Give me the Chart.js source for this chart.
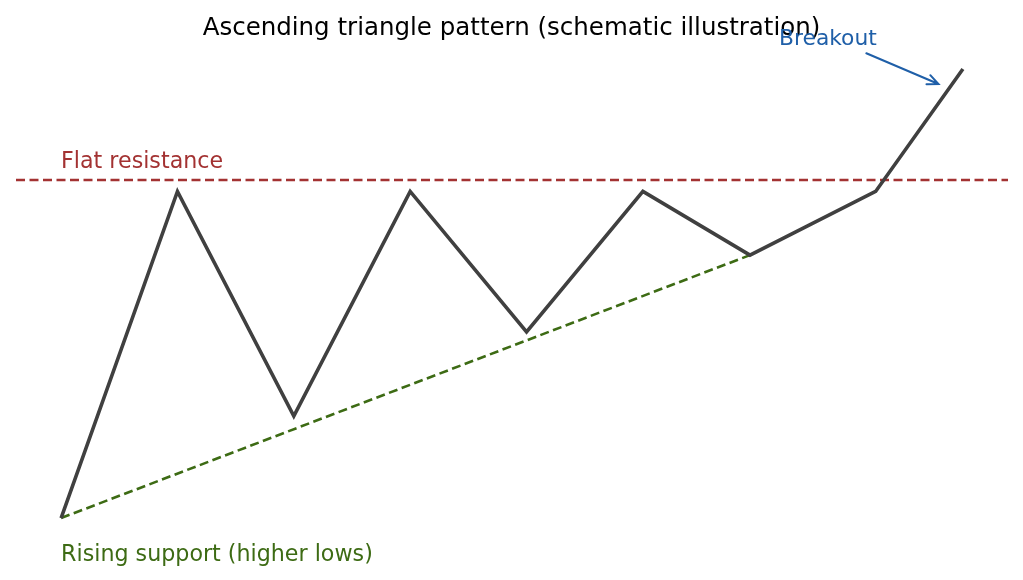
<!DOCTYPE html>
<html>
<head>
<meta charset="utf-8">
<script src="https://cdn.jsdelivr.net/npm/chart.js@4/dist/chart.umd.min.js"></script>
<style>
  html, body { margin: 0; padding: 0; background: #fff; }
  #wrap { width: 1023px; height: 580px; }
</style>
</head>
<body>
<div id="wrap"><canvas id="chart" width="1023" height="580"></canvas></div>
<script>
// price path (schematic)
const xVals = [0, 1, 2, 3, 4, 5, 5.92, 7, 7.75];
const priceVals = [80, 100, 86.25, 100, 91.4, 100, 96.1, 100, 107.5];

// trend lines
const resistanceLevel = 100.7;
const supportX = [0, 5.92];
const supportY = [80, 96.1];

// axis limits (matplotlib-style 5% margins)
const xLimits = [-0.3875, 8.1375];
const yLimits = [78.625, 108.875];

// texts
const titleText = "Ascending triangle pattern (schematic illustration)";
const resistanceLabel = "Flat resistance";
const supportLabel = "Rising support (higher lows)";
const breakoutLabel = "Breakout";

const FONT = '"DejaVu Sans", sans-serif';
const COL_LINE = "#404040";
const COL_RES = "#a33232";
const COL_SUP = "#3d6b14";
const COL_BRK = "#1f5fa8";

const pricePts = xVals.map((x, i) => ({ x: x, y: priceVals[i] }));
const supportPts = supportX.map((x, i) => ({ x: x, y: supportY[i] }));
const resistancePts = xLimits.map(x => ({ x: x, y: resistanceLevel }));

const annotations = {
  id: "annotations",
  afterDatasetsDraw(chart) {
    const { ctx, scales } = chart;
    const sx = scales.x, sy = scales.y;
    ctx.save();
    ctx.textBaseline = "alphabetic";

    // title
    ctx.fillStyle = "#000";
    ctx.font = "24.5px " + FONT;
    ctx.textAlign = "center";
    ctx.fillText(titleText, chart.width / 2, 35);

    ctx.textAlign = "left";
    ctx.font = "22.2px " + FONT;
    ctx.fillStyle = COL_RES;
    ctx.fillText(resistanceLabel, sx.getPixelForValue(0), sy.getPixelForValue(101.44));
    ctx.fillStyle = COL_SUP;
    ctx.fillText(supportLabel, sx.getPixelForValue(0), sy.getPixelForValue(77.37));
    ctx.font = "21.8px " + FONT;
    ctx.fillStyle = COL_BRK;
    ctx.fillText(breakoutLabel, sx.getPixelForValue(6.17), sy.getPixelForValue(108.97));

    // breakout arrow
    const x0 = sx.getPixelForValue(6.92), y0 = sy.getPixelForValue(108.46);
    const x1 = sx.getPixelForValue(7.54), y1 = sy.getPixelForValue(106.58);
    const ang = Math.atan2(y1 - y0, x1 - x0);
    const head = 12, spread = 0.42;
    ctx.strokeStyle = COL_BRK;
    ctx.lineWidth = 2;
    ctx.lineCap = "round";
    ctx.beginPath();
    ctx.moveTo(x0, y0);
    ctx.lineTo(x1, y1);
    ctx.moveTo(x1 - head * Math.cos(ang - spread), y1 - head * Math.sin(ang - spread));
    ctx.lineTo(x1, y1);
    ctx.lineTo(x1 - head * Math.cos(ang + spread), y1 - head * Math.sin(ang + spread));
    ctx.stroke();
    ctx.restore();
  }
};

new Chart(document.getElementById("chart"), {
  type: "scatter",
  data: {
    datasets: [
      {
        data: pricePts,
        showLine: true,
        borderColor: COL_LINE,
        borderWidth: 3.6,
        pointRadius: 0,
        borderJoinStyle: "miter",
        order: 0,
      },
      {
        data: supportPts,
        showLine: true,
        borderColor: COL_SUP,
        borderWidth: 2.6,
        borderDash: [9, 4.5],
        pointRadius: 0,
        order: 1,
      },
      {
        data: resistancePts,
        showLine: true,
        borderColor: COL_RES,
        borderWidth: 2.6,
        borderDash: [9, 4.5],
        pointRadius: 0,
        order: 2,
      },
    ],
  },
  options: {
    responsive: false,
    animation: false,
    devicePixelRatio: 1,
    layout: { padding: { left: 16, right: 15, top: 46.5, bottom: 39.5 } },
    scales: {
      x: { type: "linear", display: false, min: xLimits[0], max: xLimits[1] },
      y: { type: "linear", display: false, min: yLimits[0], max: yLimits[1] },
    },
    plugins: { legend: { display: false }, tooltip: { enabled: false } },
  },
  plugins: [annotations],
});
</script>
</body>
</html>
